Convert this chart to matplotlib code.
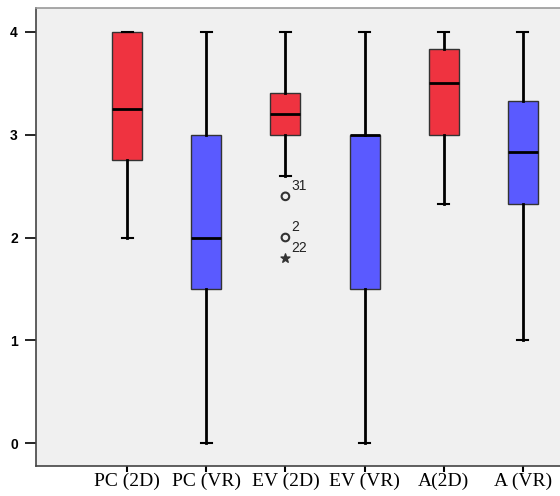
import matplotlib.pyplot as plt

labels = ['PC (2D)', 'PC (VR)', 'EV (2D)', 'EV (VR)', 'A(2D)', 'A (VR)']
whislo = [2.0, 0.0, 2.6, 0.0, 2.33, 1.0]
q1 = [2.75, 1.5, 3.0, 1.5, 3.0, 2.33]
med = [3.25, 2.0, 3.2, 3.0, 3.5, 2.83]
q3 = [4.0, 3.0, 3.4, 3.0, 3.83, 3.33]
whishi = [4.0, 4.0, 4.0, 4.0, 4.0, 4.0]
colors = ['#EF3340', '#5A5AFF', '#EF3340', '#5A5AFF', '#EF3340', '#5A5AFF']

# outliers of EV (2D)
out_vals = [2.4, 2.0]
out_ids = ['31', '2']
extreme_vals = [1.8]
extreme_ids = ['22']

stats = []
for i in range(len(labels)):
    stats.append({'whislo': whislo[i], 'q1': q1[i], 'med': med[i], 'q3': q3[i],
                  'whishi': whishi[i], 'fliers': [], 'label': labels[i]})

fig = plt.figure(figsize=(5.6, 4.96), dpi=100)
ax = fig.add_axes([36/560, 1 - 466/496, 1 - 36/560, 458/496])
ax.set_facecolor('#F0F0F0')

pos = list(range(1, len(labels) + 1))
bp = ax.bxp(stats, positions=pos, widths=0.38, patch_artist=True, showfliers=False,
            boxprops=dict(edgecolor='#333333', linewidth=1.0),
            medianprops=dict(color='black', linewidth=2),
            whiskerprops=dict(color='black', linewidth=2),
            capprops=dict(color='black', linewidth=1.5),
            capwidths=0.14)
for patch, c in zip(bp['boxes'], colors):
    patch.set_facecolor(c)

ev = 3
ax.scatter([ev] * len(out_vals), out_vals, marker='o', s=30, facecolors='none',
           edgecolors='#333333', linewidths=1.5, zorder=3)
ax.scatter([ev] * len(extreme_vals), extreme_vals, marker='*', s=45, color='#333333', zorder=3)
for v, t in zip(out_vals + extreme_vals, out_ids + extreme_ids):
    ax.text(ev + 0.08, v + 0.03, t, fontsize=10, family='Liberation Sans',
            color='#222222', ha='left', va='bottom')

ax.set_xlim(-0.152, 6.47)
ax.set_ylim(-0.22, 4.23)
ax.set_yticks([0, 1, 2, 3, 4])
ax.set_yticklabels(['0', '1', '2', '3', '4'], fontweight='bold', fontsize=10,
                   family='Liberation Sans')
ax.set_xticks(pos)
ax.set_xticklabels(labels, family='Liberation Serif', fontsize=14)
ax.tick_params(axis='x', length=4, width=1.5, pad=1)
ax.tick_params(axis='y', length=8, width=1.2, pad=5)
ax.spines['right'].set_visible(False)
for s in ['left', 'bottom', 'top']:
    ax.spines[s].set_color('#444444')
    ax.spines[s].set_linewidth(1.2)
ax.spines['top'].set_color('#999999')

fig.savefig('out.png', dpi=100)
